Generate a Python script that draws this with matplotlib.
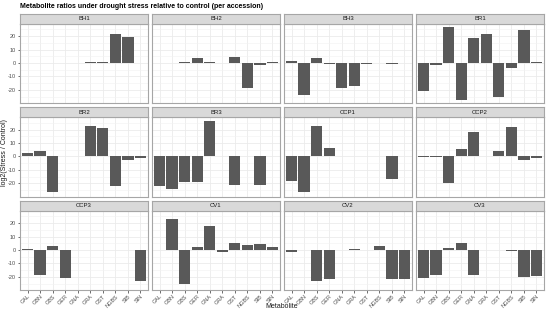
import matplotlib
matplotlib.use("Agg")
import matplotlib.pyplot as plt
import numpy as np

plt.rcParams["font.family"] = ["Liberation Sans", "DejaVu Sans"]

nan = np.nan

metabolites = ["GAL", "GBN", "GBS", "GER", "GNA", "GRA", "GST", "NGBS", "SIB", "SIN"]
accessions = ["BH1", "BH2", "BH3", "BR1",
              "BR2", "BR3", "CCP1", "CCP2",
              "CCP3", "CV1", "CV2", "CV3"]

# log2(stress / control), one list per accession, order as in metabolites
BH1 = [nan, -0.3, nan, nan, nan, 0.5, 0.5, 21.5, 19.5, 0.2]
BH2 = [0.3, nan, 0.5, 3.5, 0.5, nan, 4.5, -19.0, -1.5, 0.5]
BH3 = [1.5, -24.2, 3.5, -1.0, -18.8, -17.0, -1.0, nan, -0.5, 0.1]
BR1 = [-20.7, -1.8, 27.0, -27.4, 18.7, 21.7, -25.0, -3.6, 24.2, 0.5]
BR2 = [2.5, 3.8, -26.5, nan, nan, 22.6, 21.3, -22.3, -2.5, -1.0]
BR3 = [-22.2, -24.0, -19.0, -19.0, 26.3, 0.3, -21.0, nan, -21.2, 0.7]
CCP1 = [-18.4, -26.7, 22.6, 6.4, nan, 0.3, 0.5, nan, -17.0, 0.1]
CCP2 = [-0.5, -0.6, -19.6, 5.5, 18.0, 0.3, 4.2, 21.6, -2.5, -1.0]
CCP3 = [0.9, -18.6, 3.0, -21.0, nan, nan, -0.2, nan, 0.3, -23.4]
CV1 = [nan, 22.7, -25.0, 2.2, 17.6, -1.7, 4.9, 3.5, 4.3, 2.3]
CV2 = [-1.5, -0.3, -23.2, -21.9, nan, 0.8, nan, 3.2, -21.9, -21.9]
CV3 = [-20.5, -18.6, 1.3, 4.9, -19.0, nan, 0.3, -0.8, -20.0, -19.5]

values = [BH1, BH2, BH3, BR1, BR2, BR3, CCP1, CCP2, CCP3, CV1, CV2, CV3]

W, H = 550, 314
fig = plt.figure(figsize=(W / 100, H / 100), dpi=100)
fig.patch.set_facecolor("white")

def box(x0, y0, w, h):
    # pixel box (top-left origin) -> figure fraction
    return [x0 / W, 1 - (y0 + h) / H, w / W, h / H]

col_x = [20, 152, 284, 416]
pw = 128
row_strip = [13.5, 107, 200.5]
sh = 10
ph = 79.5

x = np.arange(len(metabolites))
border = "#a6a6a6"

for i, (name, vals) in enumerate(zip(accessions, values)):
    r, c = divmod(i, 4)
    ax = fig.add_axes(box(col_x[c], row_strip[r] + sh, pw, ph))
    ax.bar(x, vals, width=0.9, color="#595959", zorder=3)
    ax.set_xlim(-0.6, len(metabolites) - 0.4)
    ax.set_ylim(-29.8, 29.4)
    ax.set_yticks([-20, -10, 0, 10, 20])
    ax.set_yticks([-25, -15, -5, 5, 15, 25], minor=True)
    ax.set_xticks(x)
    ax.grid(which="major", color="#ebebeb", lw=0.6, zorder=0)
    ax.grid(which="minor", axis="y", color="#f2f2f2", lw=0.4, zorder=0)
    for s in ax.spines.values():
        s.set_color(border)
        s.set_linewidth(0.8)
    ax.tick_params(which="major", length=1.8, width=0.5, color="#333333",
                   labelsize=4.0, labelcolor="#4d4d4d", pad=1)
    ax.tick_params(which="minor", length=0)
    if c == 0:
        ax.set_yticklabels(["-20", "-10", "0", "10", "20"])
    else:
        ax.set_yticklabels([])
        ax.tick_params(axis="y", length=0)
    if r == 2:
        ax.set_xticklabels(metabolites, rotation=45, ha="right",
                           rotation_mode="anchor")
    else:
        ax.set_xticklabels([])
        ax.tick_params(axis="x", length=0)

    sax = fig.add_axes(box(col_x[c], row_strip[r], pw, sh))
    sax.set_facecolor("#d9d9d9")
    sax.set_xticks([])
    sax.set_yticks([])
    for s in sax.spines.values():
        s.set_color(border)
        s.set_linewidth(0.8)
    sax.text(0.5, 0.5, name, ha="center", va="center", fontsize=4.3,
             color="#1a1a1a", transform=sax.transAxes)

title = fig.text(20 / W, 1 - 6.5 / H,
                 "Metabolite ratios under drought stress relative to control (per accession)",
                 fontsize=6, fontweight="bold", ha="left", va="center")
# fit title width to the reference (~248 px)
fig.canvas.draw()
tw = title.get_window_extent().width
title.set_fontsize(6 * 248 / tw)

fig.text(282 / W, 1 - 307 / H, "Metabolite", fontsize=5.0, ha="center",
         va="center", color="#1a1a1a")
fig.text(4.5 / W, 1 - 152 / H, "log2(Stress / Control)", fontsize=5.0,
         rotation=90, ha="center", va="center", color="#1a1a1a")

fig.savefig("out.png", dpi=100, facecolor="white")
